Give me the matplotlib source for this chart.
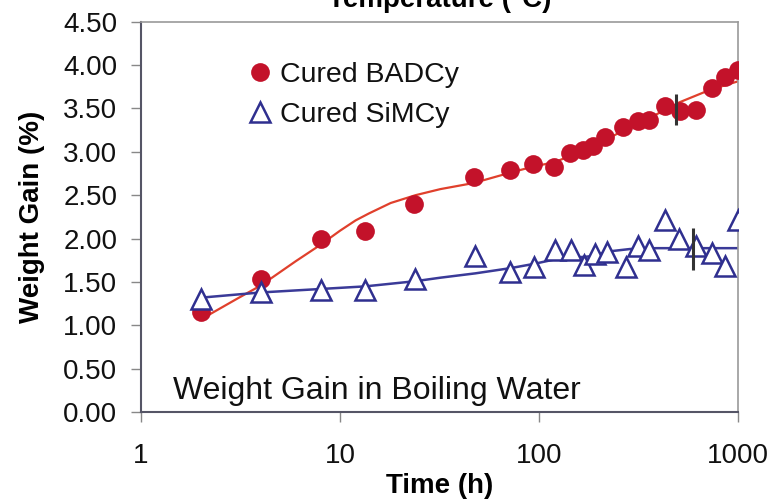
import matplotlib
matplotlib.use("Agg")
import matplotlib.pyplot as plt
from matplotlib.lines import Line2D

plt.rcParams['font.family'] = ['Liberation Sans', 'DejaVu Sans']

# ---- data ----
badcy_time = [2, 4, 8, 13.4, 23.6, 47, 72, 94, 119, 143, 166, 188, 215, 265, 314, 358, 430, 511, 615, 746, 860, 1000]
badcy_gain = [1.15, 1.54, 1.99, 2.09, 2.40, 2.71, 2.79, 2.86, 2.82, 2.99, 3.02, 3.07, 3.17, 3.28, 3.35, 3.37, 3.53, 3.47, 3.48, 3.74, 3.86, 3.94]

simcy_time = [2, 4, 8, 13.4, 23.8, 48, 72, 95, 120, 145, 168, 191, 220, 273, 316, 358, 431, 507, 615, 746, 860, 1000]
simcy_gain = [1.31, 1.38, 1.41, 1.41, 1.53, 1.80, 1.61, 1.67, 1.87, 1.87, 1.70, 1.82, 1.85, 1.67, 1.91, 1.87, 2.22, 1.99, 1.91, 1.84, 1.68, 2.22]

# trend lines
badcy_trend_t = [2, 3, 4, 6, 8, 10, 12, 14, 18, 24, 32, 47, 72, 94, 120, 143, 188, 265, 314, 430, 510, 720, 1000]
badcy_trend_y = [1.07, 1.30, 1.46, 1.74, 1.93, 2.09, 2.21, 2.29, 2.41, 2.50, 2.57, 2.64, 2.76, 2.83, 2.88, 2.95, 3.07, 3.24, 3.32, 3.48, 3.57, 3.71, 3.81]
simcy_trend_t = [2, 4, 8, 13.4, 24, 32, 48, 72, 95, 120, 148, 191, 220, 287, 390, 1000]
simcy_trend_y = [1.32, 1.38, 1.42, 1.45, 1.51, 1.55, 1.60, 1.66, 1.71, 1.76, 1.78, 1.80, 1.85, 1.88, 1.89, 1.89]

# single error bars
err_time = [490, 598]
err_low = [3.31, 1.64]
err_high = [3.66, 2.12]

yticks = [0.0, 0.5, 1.0, 1.5, 2.0, 2.5, 3.0, 3.5, 4.0, 4.5]
xticks = [1, 10, 100, 1000]
xticklabels = ['1', '10', '100', '1000']

RED = '#c3122a'
RED_LINE = '#e0402c'
BLUE = '#2f2f8f'
BLUE_LINE = '#3a3a98'

fig = plt.figure(figsize=(7.73, 4.99), dpi=100)
ax = fig.add_axes([141/773, 1 - 412.3/499, (737.7-141)/773, (412.3-21.5)/499])

ax.plot(badcy_trend_t, badcy_trend_y, color=RED_LINE, lw=1.6, zorder=2)
ax.plot(simcy_trend_t, simcy_trend_y, color=BLUE_LINE, lw=1.8, zorder=2)
ax.vlines(err_time, err_low, err_high, color='#333333', lw=2.2, zorder=4)

ax.plot(badcy_time, badcy_gain, linestyle='none', marker='o', ms=13.5,
        color=RED, markeredgewidth=0, zorder=3)
ax.plot(simcy_time, simcy_gain, linestyle='none', marker='^', ms=14,
        markerfacecolor='white', markeredgecolor=BLUE, markeredgewidth=1.8, zorder=3)

ax.set_xscale('log')
ax.set_xlim(1, 1000)
ax.set_ylim(0, 4.5)
ax.set_xticks(xticks)
ax.set_xticklabels(xticklabels)
ax.xaxis.set_minor_locator(matplotlib.ticker.NullLocator())
ax.set_yticks(yticks)
ax.set_yticklabels([f"{v:.2f}" for v in yticks])
ax.tick_params(axis='both', which='major', direction='out', length=7,
               width=1.0, color='#888888', labelsize=20, labelcolor='#111111')
ax.tick_params(axis='y', pad=10)
ax.tick_params(axis='x', pad=15)

for side in ['left', 'bottom']:
    ax.spines[side].set_color('#555566')
    ax.spines[side].set_linewidth(1.5)
for side in ['top', 'right']:
    ax.spines[side].set_color('#999999')
    ax.spines[side].set_linewidth(1.2)

ax.set_ylabel('Weight Gain (%)', fontsize=20, fontweight='bold', labelpad=13)
ax.set_xlabel('Time (h)', fontsize=20, fontweight='bold', labelpad=3)

fig.text(0.5 * (141 + 737.7) / 773, 1 - 7/499, 'Temperature (°C)', fontsize=20,
         fontweight='bold', ha='center', va='baseline')

ax.text(173/773, 1 - 399/499, 'Weight Gain in Boiling Water', transform=fig.transFigure,
        fontsize=23, ha='left', va='baseline', color='#111111')

handles = [
    Line2D([], [], linestyle='none', marker='o', ms=13.5, color=RED, markeredgewidth=0),
    Line2D([], [], linestyle='none', marker='^', ms=14, markerfacecolor='white',
           markeredgecolor=BLUE, markeredgewidth=1.8),
]
leg = ax.legend(handles, ['Cured BADCy', 'Cured SiMCy'], loc='upper left',
                bbox_to_anchor=(249/773, 1 - 62/499), bbox_transform=fig.transFigure,
                frameon=False, fontsize=20.5, handlelength=0.8, handletextpad=0.3,
                borderpad=0, borderaxespad=0, labelspacing=0.5)
for t in leg.get_texts():
    t.set_color('#111111')

fig.savefig('out.png', dpi=100)
